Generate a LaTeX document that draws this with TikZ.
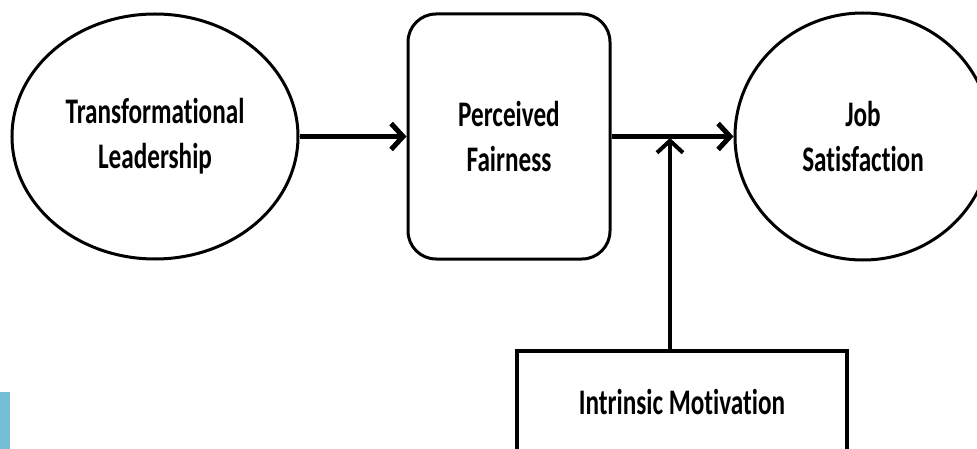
\documentclass[tikz,border=0pt]{standalone}
\usepackage{fontspec}
\usepackage{tikz}
\usetikzlibrary{arrows.meta,positioning,shapes.geometric}
\usepackage{xcolor}
\newfontfamily\boxfont{Carlito}[FakeStretch=0.7, Ligatures=NoCommon]
\definecolor{lineblack}{RGB}{0,0,0}
\definecolor{edgeblue}{RGB}{118,190,216}

\begin{document}
\begin{tikzpicture}[
  x=1pt, y=-1pt,
  oval/.style={ellipse, draw=lineblack, line width=3pt, align=center, inner sep=0pt, font=\boxfont\bfseries\fontsize{36}{45}\selectfont},
  card/.style={rectangle, draw=lineblack, line width=3pt, align=center, inner sep=0pt, font=\boxfont\bfseries\fontsize{36}{45}\selectfont},
  arr/.style={-{Straight Barb[length=12pt, width=26pt]}, line width=5pt}
]
\useasboundingbox (0,0) rectangle (977,449);
\clip (0,0) rectangle (977,449);
\fill[edgeblue] (0,392) rectangle (10,449);

\node[oval, minimum width=286pt, minimum height=245pt] (tl) at (155,136.5) {Transformational\\Leadership};
\node[card, rounded corners=28pt, minimum width=202pt, minimum height=245pt] (pf) at (509,136.5) {Perceived\\Fairness};
\node[oval, minimum width=256pt, minimum height=247pt] (js) at (863,136.5) {Job\\Satisfaction};
\node[card, line width=4pt, minimum width=330pt, minimum height=102pt] (im) at (682,402) {Intrinsic Motivation};

\coordinate (join) at (670,138);
\draw[arr] (tl) -- (pf);
\draw[arr] (pf) -- (js);
\draw[arr, line width=4pt] (im.north -| join) -- (join);
\end{tikzpicture}
\end{document}
